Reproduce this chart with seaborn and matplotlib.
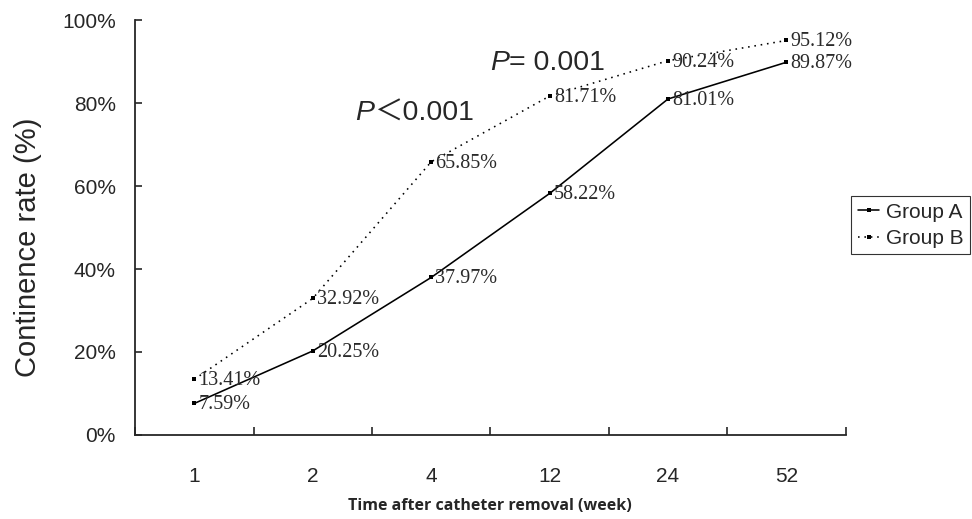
import matplotlib
matplotlib.use("Agg")
import matplotlib.pyplot as plt
import pandas as pd
import seaborn as sns

weeks = ["1", "2", "4", "12", "24", "52"]
group_a = [7.59, 20.25, 37.97, 58.22, 81.01, 89.87]
group_b = [13.41, 32.92, 65.85, 81.71, 90.24, 95.12]
group_names = ["Group A", "Group B"]

sns.set_style("ticks")
plt.rcParams["font.family"] = ["Liberation Sans", "Noto Sans CJK SC"]

df = pd.DataFrame({
    "week": weeks * 2,
    "rate": group_a + group_b,
    "group": [group_names[0]] * len(weeks) + [group_names[1]] * len(weeks),
})

fig = plt.figure(figsize=(9.72, 5.19), dpi=100)
ax = fig.add_axes([0.139, 0.162, 0.731, 0.799])

sns.lineplot(
    data=df, x="week", y="rate", hue="group", style="group",
    palette=["black", "black"],
    dashes={group_names[0]: "", group_names[1]: (1, 3)},
    markers={group_names[0]: "s", group_names[1]: "s"},
    markersize=3.2, markeredgewidth=0, linewidth=1.15,
    ax=ax, legend=True, sort=False,
)

# value labels
for vals in (group_a, group_b):
    for i, v in enumerate(vals):
        ax.annotate(f"{v:.2f}%", xy=(i, v), xytext=(3, -1), textcoords="offset points",
                    ha="left", va="center", fontsize=14.5, color="#2a2a2a",
                    family=["Liberation Serif"])

# axes styling
ax.set_xlim(-0.5, len(weeks) - 0.5)
ax.set_ylim(0, 100)
ax.set_yticks(range(0, 101, 20))
ax.set_yticklabels([f"{v}%" for v in range(0, 101, 20)], fontsize=15)
ax.tick_params(axis="y", direction="in", length=5, width=1.2, pad=14)

ax.set_xticks(range(len(weeks)))
ax.set_xticklabels(weeks, fontsize=15)
ax.tick_params(axis="x", which="major", length=0, pad=23)
ax.set_xticks([i + 0.5 for i in range(-1, len(weeks))], minor=True)
ax.tick_params(axis="x", which="minor", direction="in", length=6, width=1.2)

sns.despine(ax=ax)
for side in ("left", "bottom"):
    ax.spines[side].set_linewidth(1.3)

ax.set_ylabel("Continence rate (%)", fontsize=21)
ax.yaxis.set_label_coords(-0.131, 0.453)
ax.set_xlabel("Time after catheter removal (week)", fontsize=11.5, fontweight="bold",
              family=["Open Sans"])
ax.xaxis.set_label_coords(0.5, -0.153)

# p-values
t1 = ax.text(1.357, 75.9, "P", fontsize=20.5, style="italic", va="baseline")
ax.annotate("\uff1c0.001", xy=(1, 0), xycoords=t1, va="bottom", ha="left", fontsize=20.5)
t2 = ax.text(2.496, 88.0, "P", fontsize=20.5, style="italic", va="baseline")
ax.annotate("= 0.001", xy=(1, 0), xycoords=t2, va="bottom", ha="left", fontsize=20.5)

leg = ax.legend(loc="upper left", bbox_to_anchor=(1.008, 0.575), fontsize=15,
                frameon=True, fancybox=False, edgecolor="black", handlelength=1.05,
                handletextpad=0.3, borderpad=0.3, labelspacing=0.35, borderaxespad=0)
leg.get_frame().set_linewidth(0.8)

fig.savefig("out.png", dpi=100)
